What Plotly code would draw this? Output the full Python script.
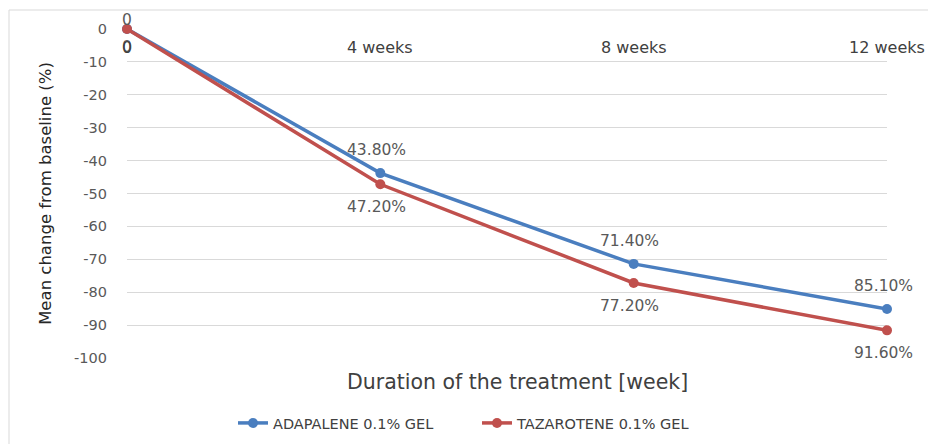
import plotly.graph_objects as go

categories = ["0", "4 weeks", "8 weeks", "12 weeks"]
adapalene = [0, -43.8, -71.4, -85.1]
tazarotene = [0, -47.2, -77.2, -91.6]
adapalene_labels = ["0", "43.80%", "71.40%", "85.10%"]
tazarotene_labels = ["0", "47.20%", "77.20%", "91.60%"]
y_ticks = list(range(0, -101, -10))

FONT = "DejaVu Sans"
BLUE = "#4a7ebf"
RED = "#c0504d"
LABEL_GRAY = "#595959"

# the page body has an 8px margin, so layout margins are offset by 8px
PLOT_L, PLOT_T, PLOT_W, PLOT_H = 119, 21, 760, 329

fig = go.Figure()
fig.add_trace(go.Scatter(
    x=categories, y=adapalene, mode="lines+markers",
    name="ADAPALENE 0.1% GEL",
    line=dict(color=BLUE, width=3.5), marker=dict(size=10, color=BLUE),
    cliponaxis=False,
))
fig.add_trace(go.Scatter(
    x=categories, y=tazarotene, mode="lines+markers",
    name="TAZAROTENE 0.1% GEL",
    line=dict(color=RED, width=3.5), marker=dict(size=10, color=RED),
    cliponaxis=False,
))

# data labels: blue above, red below
for c, v, t in zip(categories, adapalene, adapalene_labels):
    fig.add_annotation(x=c, y=v, xref="x", yref="y", text=t, showarrow=False,
                       yshift=(23 if v != 0 else 9), xshift=(-4 if v != 0 else 0),
                       font=dict(family=FONT, size=15.5, color=LABEL_GRAY))
for c, v, t in zip(categories, tazarotene, tazarotene_labels):
    fig.add_annotation(x=c, y=v, xref="x", yref="y", text=t, showarrow=False,
                       yshift=(-23 if v != 0 else -18), xshift=(-4 if v != 0 else 0),
                       font=dict(family=FONT, size=15.5, color=LABEL_GRAY))

# category labels drawn just below the zero line (Excel style axis crossing at 0)
for c in categories:
    fig.add_annotation(x=c, y=0, xref="x", yref="y", text=c, showarrow=False,
                       yshift=-18,
                       font=dict(family=FONT, size=16, color="#404040"))

fig.add_annotation(x=(517 - 127) / PLOT_W, y=-24 / PLOT_H, xref="paper", yref="paper",
                   text="Duration of the treatment [week]", showarrow=False,
                   yanchor="middle", font=dict(family=FONT, size=20.5, color="#404040"))

# chart border
fig.add_shape(type="rect", xref="paper", yref="paper",
              x0=(9 - 127) / PLOT_W, x1=(960 - 127) / PLOT_W,
              y0=(358 - 460) / PLOT_H, y1=(358 - 10) / PLOT_H,
              line=dict(color="#d9d9d9", width=1), fillcolor="rgba(0,0,0,0)", layer="below")

fig.update_layout(
    width=936, height=444,
    margin=dict(l=PLOT_L, r=936 - PLOT_L - PLOT_W, t=PLOT_T, b=444 - PLOT_T - PLOT_H,
                autoexpand=False),
    paper_bgcolor="white", plot_bgcolor="white",
    font=dict(family=FONT, color="#404040"),
    showlegend=True,
    legend=dict(orientation="h", x=(233 - 127) / PLOT_W, xanchor="left",
                y=(358 - 407) / PLOT_H, yanchor="top",
                font=dict(family=FONT, size=14.5, color="#404040"),
                entrywidth=199, entrywidthmode="pixels",
                tracegroupgap=0),
    xaxis=dict(type="category", range=[0, 3], showticklabels=False, showgrid=False,
               zeroline=False, showline=False, ticks="", automargin=False),
    yaxis=dict(range=[-100, 0], tickvals=y_ticks, ticktext=[str(v) for v in y_ticks],
               showgrid=True, gridcolor="#d9d9d9", gridwidth=1, zeroline=False,
               showline=False, ticks="", ticklabelstandoff=19, automargin=False,
               tickfont=dict(family=FONT, size=14.5, color="#595959"),
               title=dict(text="Mean change from baseline (%)", standoff=18,
                          font=dict(family=FONT, size=16.5, color="#262626"))),
)

fig.write_html("out.html")
